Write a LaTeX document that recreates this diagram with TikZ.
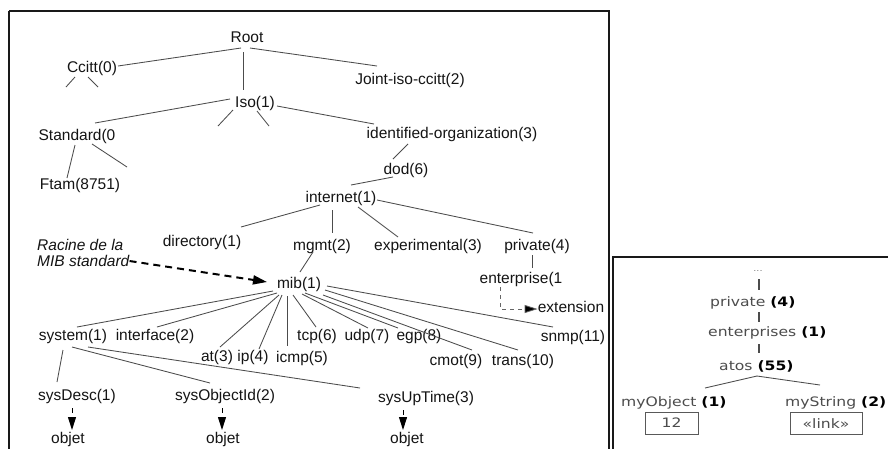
\documentclass[tikz,border=0pt]{standalone}
\usepackage{fontspec}
\setmainfont{Liberation Sans}
\newfontfamily\rfont[FakeStretch=1.2]{DejaVu Sans}
\usetikzlibrary{calc,arrows.meta}
\newcommand\edgeL[4]{\draw[edge] ($(#1)+(#2)$) -- ($(#3)+(#4)$);}
\newcommand\stubL[3]{\draw[edge] ($(#1)+(#2)$) -- ($(#1)+(#3)$);}
\begin{document}
\begin{tikzpicture}[x=1pt,y=-1pt,
  lbl/.style={inner sep=0pt, text height=11pt, text depth=3.3pt,
    font=\fontsize{15.5}{18}\selectfont, text=black!92},
  edge/.style={draw=black!70, line width=0.85pt},
  frame/.style={draw=black!90, line width=2.3pt},
  objarrow/.style={draw=black, line width=1pt, dash pattern=on 5pt off 6pt,
    -{Triangle[length=13pt,width=8pt]}},
  rlbl/.style={inner sep=0pt, anchor=west, text height=9.5pt, text depth=2.7pt,
    font=\rfont\fontsize{13}{15}\selectfont, text=black!70},
  redge/.style={draw=black!70, line width=1.1pt},
  rbox/.style={draw=black!65, line width=0.8pt, minimum height=22pt,
    inner sep=0pt, font=\rfont\fontsize{13}{15}\selectfont, text=black!70}]
\useasboundingbox (0,0) rectangle (888,448);
\fill[white] (0,0) rectangle (888,448);
% frames
\draw[frame] (9,11) -- (609,11) -- (609,470);
\draw[frame] (9,470) -- (9,11);
\draw[frame] (613,470) -- (613,257) -- (900,257);

% left tree nodes
\node[lbl] (root) at (247,39) {Root};
\node[lbl] (ccitt) at (92,69) {Ccitt(0)};
\node[lbl] (joint) at (410,81) {Joint-iso-ccitt(2)};
\node[lbl] (iso) at (255,104) {Iso(1)};
\node[lbl] (std) at (77,137) {Standard(0};
\node[lbl] (ftam) at (80,186) {Ftam(8751)};
\node[lbl] (ident) at (452,135) {identified-organization(3)};
\node[lbl] (dod) at (406,171) {dod(6)};
\node[lbl] (internet) at (341,199) {internet(1)};
\node[lbl] (directory) at (202,243) {directory(1)};
\node[lbl] (mgmt) at (322,247) {mgmt(2)};
\node[lbl] (exper) at (428,247) {experimental(3)};
\node[lbl] (private) at (537,247) {private(4)};
\node[lbl] (enterprise) at (521,280) {enterprise(1};
\node[lbl] (extension) at (571,309) {extension};
\node[inner sep=0pt, anchor=west, align=left, text=black!92,
  font=\fontsize{15.5}{16}\selectfont\itshape] (racine) at (37,253)
  {Racine de la\\MIB standard};
\node[lbl] (mib) at (299,285) {mib(1)};
\node[lbl] (system) at (73,337) {system(1)};
\node[lbl] (interface) at (155,337) {interface(2)};
\node[lbl] (at) at (217,358) {at(3)};
\node[lbl] (ip) at (253,358) {ip(4)};
\node[lbl] (icmp) at (302,359) {icmp(5)};
\node[lbl] (tcp) at (317,337) {tcp(6)};
\node[lbl] (udp) at (367,337) {udp(7)};
\node[lbl] (egp) at (419,337) {egp(8)};
\node[lbl] (cmot) at (456,362) {cmot(9)};
\node[lbl] (trans) at (523,362) {trans(10)};
\node[lbl] (snmp) at (573,338) {snmp(11)};
\node[lbl] (sysdesc) at (77,397) {sysDesc(1)};
\node[lbl] (sysobj) at (225,397) {sysObjectId(2)};
\node[lbl] (sysup) at (426,399) {sysUpTime(3)};
\node[lbl] (objet1) at (68,440) {objet};
\node[lbl] (objet2) at (223,440) {objet};
\node[lbl] (objet3) at (407,440) {objet};

% left tree edges
\edgeL{root}{-6,9}{ccitt}{26,-3}
\edgeL{root}{-4,13}{iso}{-12,-14}
\edgeL{root}{3,9}{joint}{-33,-15}
\stubL{ccitt}{-17,8}{-26,18}
\stubL{ccitt}{-4,8}{6,18}
\edgeL{iso}{-25,-5}{std}{18,-14}
\stubL{iso}{-22,6}{-37,22}
\stubL{iso}{2,7}{14,22}
\edgeL{iso}{22,2}{ident}{-78,-11}
\edgeL{std}{-2,8}{ftam}{-13,-8}
\stubL{std}{15,7}{50,30}
\edgeL{ident}{-44,9}{dod}{-13,-12}
\edgeL{dod}{-13,6}{internet}{10,-14}
\edgeL{internet}{-21,6}{directory}{39,-16}
\edgeL{internet}{-9,11}{mgmt}{10,-14}
\edgeL{internet}{17,8}{exper}{-30,-10}
\edgeL{internet}{36,1}{private}{-4,-14}
\edgeL{private}{-5,8}{enterprise}{11,-12}
\edgeL{mgmt}{-9,5}{mib}{1,-13}
\edgeL{mib}{-26,6}{system}{4,-10}
\edgeL{mib}{-22,8}{interface}{2,-10}
\edgeL{mib}{-20,10}{at}{3,-11}
\edgeL{mib}{-17,10}{ip}{6,-9}
\edgeL{mib}{-12,11}{icmp}{-15,-13}
\edgeL{mib}{-6,10}{tcp}{-1,-10}
\edgeL{mib}{3,9}{udp}{1,-9}
\edgeL{mib}{6,8}{egp}{-21,-9}
\edgeL{mib}{24,10}{cmot}{16,-12}
\edgeL{mib}{26,5}{trans}{-5,-12}
\edgeL{mib}{28,1}{snmp}{-20,-11}
\edgeL{system}{-10,13}{sysdesc}{-20,-15}
\edgeL{system}{-1,10}{sysobj}{-15,-14}
\edgeL{system}{15,10}{sysup}{-66,-11}

% dashed arrows
\draw[draw=black, line width=2pt, dash pattern=on 7pt off 5pt,
  -{Triangle[length=14pt,width=9pt]}] ($(racine.east)+(0,8)$) -- ($(mib)+(-32,-3)$);
\draw[draw=black!60, line width=0.8pt, dash pattern=on 4pt off 4pt,
  -{Triangle[length=13pt,width=8pt,fill=black]}] ($(enterprise)+(-21,7)$) |- (extension.west);
\draw[objarrow] ($(sysdesc)+(-5,11)$) -- ($(objet1)+(4,-10)$);
\draw[objarrow] ($(sysobj)+(-3,11)$) -- ($(objet2)+(-1,-10)$);
\draw[objarrow] ($(sysup)+(-23,11)$) -- ($(objet3)+(-4,-10)$);

% right box
\node[inner sep=0pt, text=black!50, font=\rfont\fontsize{8}{9}\selectfont] (dots) at (758,271) {...};
\node[rlbl] (rpriv) at (710,303) {private \textbf{\color{black}(4)}};
\node[rlbl] (rent) at (708,333) {enterprises \textbf{\color{black}(1)}};
\node[rlbl] (ratos) at (719,367) {atos \textbf{\color{black}(55)}};
\node[rlbl] (myobj) at (621,403) {myObject \textbf{\color{black}(1)}};
\node[rlbl] (mystr) at (785,403) {myString \textbf{\color{black}(2)}};
\node[rbox, minimum width=53pt] (box12) at (671.5,423) {12};
\node[rbox, minimum width=72pt] (boxlink) at (826,423.5) {«link»};
\draw[redge] ($(dots)+(1,8)$) -- ($(rpriv.west)+(49,-13)$);
\draw[redge] ($(rpriv.west)+(49,9)$) -- ($(rent.west)+(51,-11)$);
\draw[redge] ($(rent.west)+(51,11)$) -- ($(ratos.west)+(40,-14)$);
\draw[edge] ($(ratos.west)+(38,9)$) -- ($(myobj.west)+(84,-15)$);
\draw[edge] ($(ratos.west)+(38,9)$) -- ($(mystr.west)+(35,-18)$);
\end{tikzpicture}
\end{document}
